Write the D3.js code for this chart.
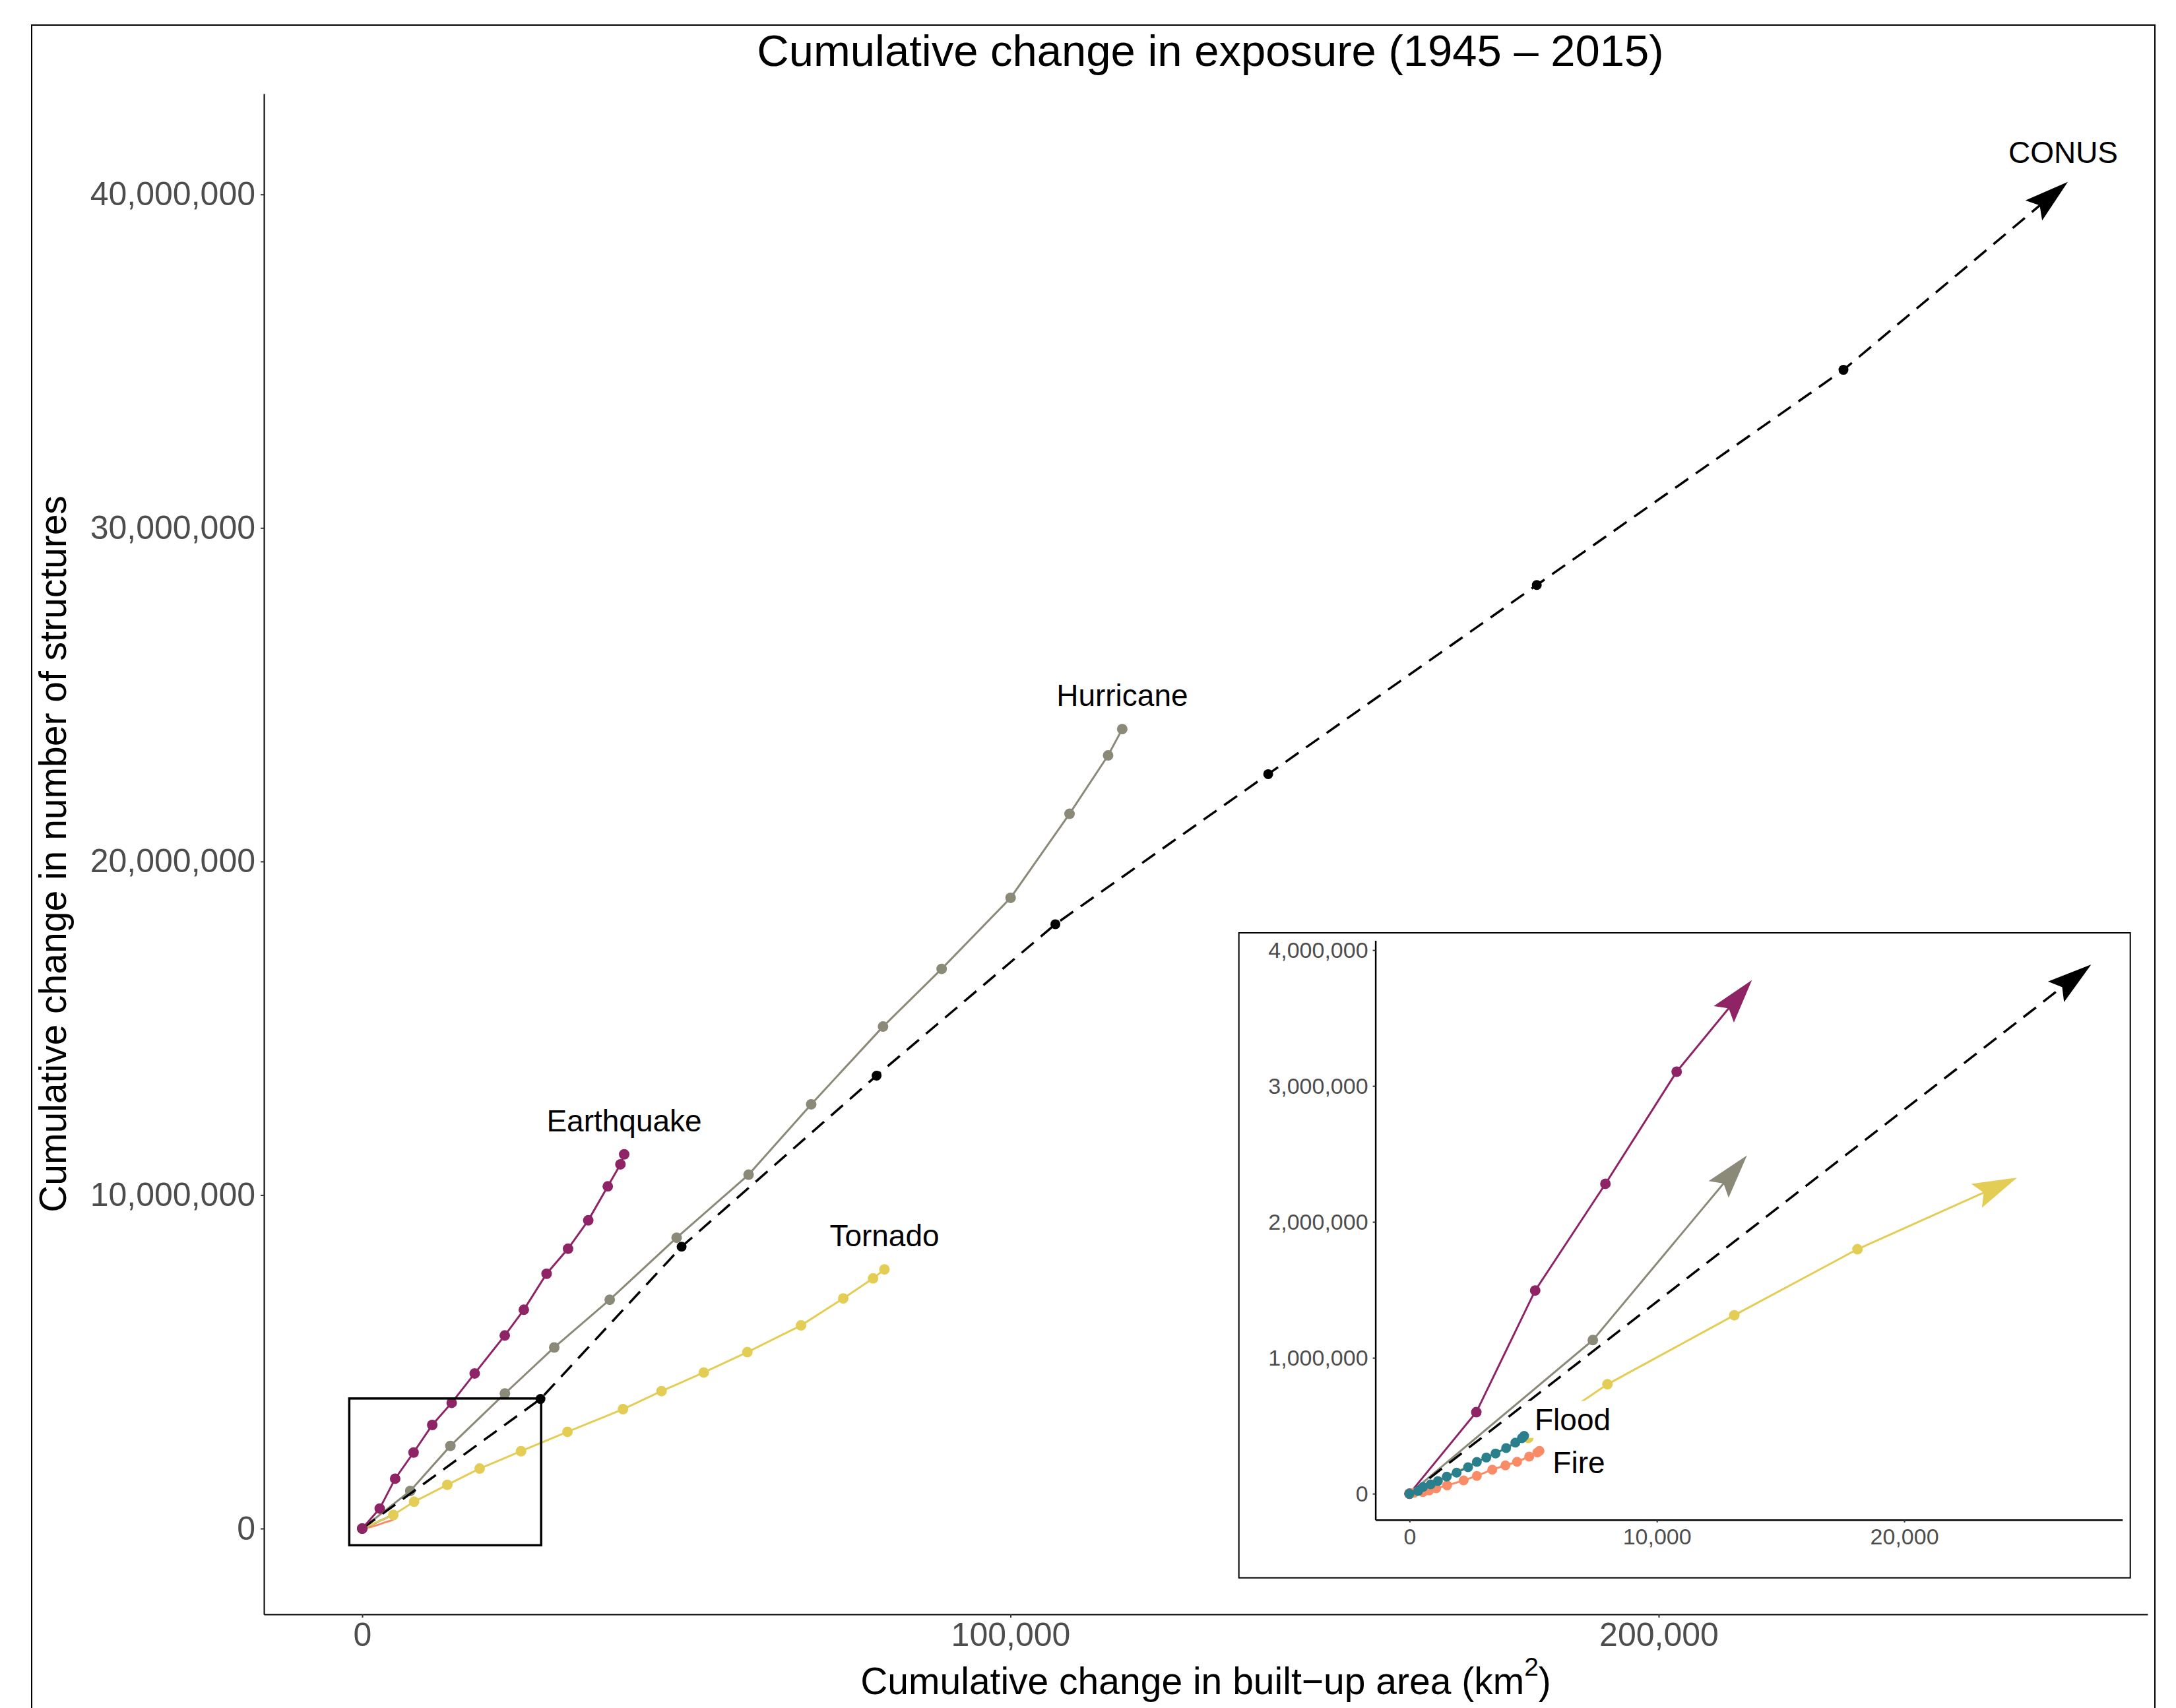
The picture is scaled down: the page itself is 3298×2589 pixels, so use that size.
<!DOCTYPE html>
<html><head><meta charset="utf-8">
<script src="https://cdn.jsdelivr.net/npm/d3@7"></script>
<style>html,body{margin:0;padding:0;background:#fff;} svg{display:block;}</style>
</head><body>
<script>
// ---------------- DATA ----------------
const earthquakeX = [0, 2700, 5080, 7920, 10800, 13800, 17350, 21990, 24930, 28440, 31750, 34870, 37880, 39830, 40410];
const earthquakeY = [0, 600000, 1495000, 2280000, 3105000, 3770000, 4650000, 5790000, 6560000, 7640000, 8390000, 9240000, 10260000, 10920000, 11220000];
const hurricaneX = [0, 7410, 13600, 22010, 29620, 38180, 48500, 59600, 69260, 80340, 89380, 100020, 109110, 115060, 117240];
const hurricaneY = [0, 1130000, 2480000, 4050000, 5430000, 6860000, 8720000, 10610000, 12720000, 15050000, 16780000, 18910000, 21430000, 23180000, 23970000];
const tornadoX = [0, 4800, 8000, 13130, 18110, 24500, 31660, 40230, 46170, 52690, 59410, 67690, 74200, 78800, 80560];
const tornadoY = [0, 410000, 805000, 1313000, 1799000, 2320000, 2900000, 3580000, 4120000, 4680000, 5290000, 6090000, 6900000, 7500000, 7770000];
const conusX = [0, 27500, 49270, 79350, 106930, 139760, 181190, 228500, 262900];
const conusY = [0, 3885000, 8450000, 13580000, 18120000, 22620000, 28290000, 34740000, 40340000];
const floodX = [0, 347, 544, 854, 1147, 1504, 1904, 2366, 2721, 3104, 3478, 3905, 4278, 4545, 4633];
const floodY = [0, 20000, 49500, 69000, 93000, 126000, 155000, 195000, 234000, 266000, 296000, 336000, 376000, 409000, 425000];
const fireX = [0, 187, 544, 792, 1077, 1521, 2188, 2721, 3345, 3878, 4348, 4838, 5167, 5255];
const fireY = [0, 7000, 12000, 24000, 40000, 61000, 98000, 131000, 177000, 208000, 235000, 273000, 303000, 315000];

const mainXTicks = [0, 100000, 200000];
const mainYTicks = [0, 10000000, 20000000, 30000000, 40000000];
const insetXTicks = [0, 10000, 20000];
const insetYTicks = [0, 1000000, 2000000, 3000000, 4000000];
const zoomBoxX = [-2000, 27600];
const zoomBoxY = [-500000, 3900000];

const titleText = "Cumulative change in exposure (1945 \u2013 2015)";
const xTitleText = "Cumulative change in built\u2212up area (km";
const yTitleText = "Cumulative change in number of structures";

// ---------------- SETUP ----------------
const FONT = "'Liberation Sans', Arial, Helvetica, sans-serif";
const W = 3298, H = 2589;
const svg = d3.select("body").append("svg").attr("width", W).attr("height", H)
  .style("font-family", FONT);
svg.append("rect").attr("width", W).attr("height", H).attr("fill", "#fff");

const zip = (xs, ys) => xs.map((x, i) => ({x: x, y: ys[i]}));
const series = {
  Earthquake: {data: zip(earthquakeX, earthquakeY), color: "#8E2365", dashed: false, r: 8},
  Hurricane:  {data: zip(hurricaneX, hurricaneY),   color: "#8B8978", dashed: false, r: 8},
  Tornado:    {data: zip(tornadoX, tornadoY),       color: "#E4CD55", dashed: false, r: 8},
  CONUS:      {data: zip(conusX, conusY),           color: "#000000", dashed: true,  r: 7.5},
  Flood:      {data: zip(floodX, floodY),           color: "#2A7F8C", dashed: false, r: 7.5},
  Fire:       {data: zip(fireX, fireY),             color: "#F98C67", dashed: false, r: 7.5}
};

// outer figure border
svg.append("rect").attr("x", 48).attr("y", 38).attr("width", 3218).attr("height", 2620)
  .attr("fill", "none").attr("stroke", "#000").attr("stroke-width", 2);

function drawSeries(g, data, sx, sy, st, arrowLast, showPoints, lw) {
  const p = data.map(d => [sx(d.x), sy(d.y)]);
  const lp = p.slice();
  let ang = 0;
  if (arrowLast && p.length > 1) {
    const a = p[p.length - 2], b = p[p.length - 1];
    ang = Math.atan2(b[1] - a[1], b[0] - a[0]);
    lp[lp.length - 1] = [b[0] - 14 * Math.cos(ang), b[1] - 14 * Math.sin(ang)];
  }
  g.append("path").attr("d", d3.line()(lp)).attr("fill", "none")
    .attr("stroke", st.color).attr("stroke-width", lw)
    .attr("stroke-dasharray", st.dashed ? "24,14" : null);
  if (showPoints) {
    const pp = arrowLast ? p.slice(0, -1) : p;
    g.selectAll(null).data(pp).enter().append("circle")
      .attr("cx", d => d[0]).attr("cy", d => d[1]).attr("r", st.r).attr("fill", st.color);
  }
  if (arrowLast && p.length > 1) {
    const b = p[p.length - 1];
    g.append("path").attr("d", "M0,0 L-63,-18.5 L-52,0 L-63,18.5 Z")
      .attr("transform", `translate(${b[0]},${b[1]}) rotate(${ang * 180 / Math.PI})`)
      .attr("fill", st.color).attr("stroke", st.color).attr("stroke-width", 1.5)
      .attr("stroke-linejoin", "miter");
  }
}

function label(g, text, x, y, anchor, size, box) {
  const grp = g.append("g");
  const t = grp.append("text").attr("x", x).attr("y", y).attr("text-anchor", anchor)
    .attr("font-size", size).attr("fill", "#000").text(text);
  if (box) {
    const bb = t.node().getBBox();
    grp.insert("rect", "text").attr("x", bb.x - 10).attr("y", bb.y - 2)
      .attr("width", bb.width + 20).attr("height", bb.height + 4).attr("fill", "#fff");
  }
}

// ---------------- MAIN PANEL ----------------
const xM = d3.scaleLinear().domain([-15165, 275420]).range([400, 3255]);
const yM = d3.scaleLinear().domain([-2571000, 43020000]).range([2447, 142]);

// title
svg.append("text").attr("x", 1834.5).attr("y", 100).attr("text-anchor", "middle")
  .attr("font-size", 67).attr("fill", "#000").text(titleText);

// axes
const gx = svg.append("g").attr("transform", `translate(0,${yM.range()[0]})`)
  .call(d3.axisBottom(xM).tickValues(mainXTicks).tickFormat(d3.format(","))
    .tickSize(5).tickSizeOuter(0).tickPadding(7));
const gy = svg.append("g").attr("transform", `translate(${xM.range()[0]},0)`)
  .call(d3.axisLeft(yM).tickValues(mainYTicks).tickFormat(d3.format(","))
    .tickSize(5).tickSizeOuter(0).tickPadding(8));
[gx, gy].forEach(g => {
  g.select(".domain").attr("stroke", "#000").attr("stroke-width", 2);
  g.selectAll(".tick line").attr("stroke", "#333").attr("stroke-width", 2);
  g.selectAll(".tick text").attr("fill", "#4D4D4D").attr("font-size", 50).attr("font-family", FONT);
});

// axis titles
const xt = svg.append("text").attr("x", (xM.range()[0] + xM.range()[1]) / 2).attr("y", 2568)
  .attr("text-anchor", "middle").attr("font-size", 57).attr("fill", "#000");
xt.append("tspan").text(xTitleText);
xt.append("tspan").attr("font-size", 39).attr("dy", -28).text("2");
xt.append("tspan").attr("dy", 28).text(")");

svg.append("text").attr("transform", `translate(100,${(yM.range()[0] + yM.range()[1]) / 2}) rotate(-90)`)
  .attr("text-anchor", "middle").attr("font-size", 57).attr("fill", "#000").text(yTitleText);

const gMain = svg.append("g");
drawSeries(gMain, series.Fire.data, xM, yM, series.Fire, false, false, 3);
drawSeries(gMain, series.Flood.data, xM, yM, series.Flood, false, false, 3);
drawSeries(gMain, series.Tornado.data, xM, yM, series.Tornado, false, true, 3);
drawSeries(gMain, series.Hurricane.data, xM, yM, series.Hurricane, false, true, 3);
drawSeries(gMain, series.CONUS.data, xM, yM, series.CONUS, true, true, 3.5);
drawSeries(gMain, series.Earthquake.data, xM, yM, series.Earthquake, false, true, 3);

// zoom indicator box
gMain.append("rect").attr("x", xM(zoomBoxX[0])).attr("y", yM(zoomBoxY[1]))
  .attr("width", xM(zoomBoxX[1]) - xM(zoomBoxX[0])).attr("height", yM(zoomBoxY[0]) - yM(zoomBoxY[1]))
  .attr("fill", "none").attr("stroke", "#000").attr("stroke-width", 3.5);

// main labels
["Earthquake", "Hurricane", "Tornado"].forEach(n => {
  const last = series[n].data[series[n].data.length - 1];
  label(gMain, n, xM(last.x), yM(last.y) - 35, "middle", 46, false);
});
{
  const last = series.CONUS.data[series.CONUS.data.length - 1];
  label(gMain, "CONUS", xM(last.x) - 5, yM(last.y) - 30, "middle", 46, false);
}

// ---------------- INSET ----------------
const inset = svg.append("g");
inset.append("rect").attr("x", 1877.7).attr("y", 1414).attr("width", 1351).attr("height", 977.7)
  .attr("fill", "#fff").attr("stroke", "#000").attr("stroke-width", 2);

const xI = d3.scaleLinear().domain([-1380, 28820]).range([2084.6, 3216.7]);
const yI = d3.scaleLinear().domain([-192000, 4071000]).range([2303.7, 1425.5]);

const gxi = inset.append("g").attr("transform", `translate(0,${yI.range()[0]})`)
  .call(d3.axisBottom(xI).tickValues(insetXTicks).tickFormat(d3.format(","))
    .tickSize(4).tickSizeOuter(0).tickPadding(9));
const gyi = inset.append("g").attr("transform", `translate(${xI.range()[0]},0)`)
  .call(d3.axisLeft(yI).tickValues(insetYTicks).tickFormat(d3.format(","))
    .tickSize(4).tickSizeOuter(0).tickPadding(7));
[gxi, gyi].forEach(g => {
  g.select(".domain").attr("stroke", "#000").attr("stroke-width", 2.5);
  g.selectAll(".tick line").attr("stroke", "#333").attr("stroke-width", 2);
  g.selectAll(".tick text").attr("fill", "#4D4D4D").attr("font-size", 34).attr("font-family", FONT);
});

function insetData(data) {
  const out = [];
  for (const d of data) {
    if (d.x >= zoomBoxX[0] && d.x <= zoomBoxX[1] && d.y >= zoomBoxY[0] && d.y <= zoomBoxY[1]) out.push(d);
    else break;
  }
  return {pts: out, continues: out.length < data.length};
}

const gIn = inset.append("g");
["Tornado", "Hurricane", "CONUS", "Earthquake"].forEach(n => {
  const r = insetData(series[n].data);
  drawSeries(gIn, r.pts, xI, yI, series[n], r.continues, true, series[n].dashed ? 3.5 : 3);
});
// inset labels (white background)
{
  const lf = series.Flood.data[series.Flood.data.length - 1];
  label(gIn, "Flood", xI(lf.x) + 16, yI(lf.y) - 9, "start", 46, true);
  const lr = series.Fire.data[series.Fire.data.length - 1];
  label(gIn, "Fire", xI(lr.x) + 20, yI(lr.y) + 34, "start", 46, true);
}
["Fire", "Flood"].forEach(n => {
  const r = insetData(series[n].data);
  drawSeries(gIn, r.pts, xI, yI, series[n], r.continues, true, 3);
});
</script>
</body></html>
